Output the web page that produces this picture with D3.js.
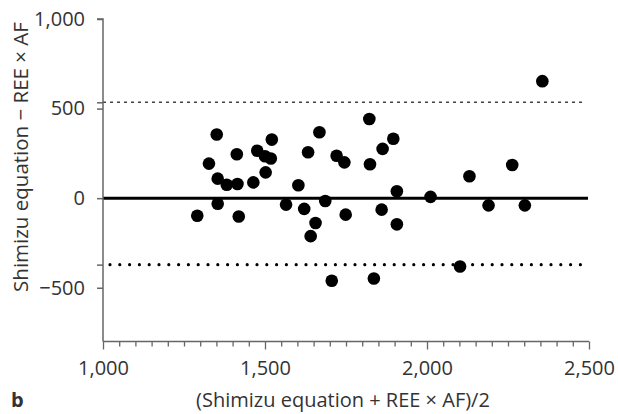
<!DOCTYPE html>
<html><head><meta charset="utf-8">
<script src="https://cdn.jsdelivr.net/npm/d3@7"></script>
<style>body{margin:0;background:#fff}svg{display:block}text{font-family:"Open Sans",sans-serif;fill:#333}</style>
</head><body><svg id="c" width="618" height="414"></svg>
<script>
const meanX = [1351,1327,1413,1354,1382,1415,1464,1476,1500,1518,1521,1502,1354,1291,1419,
  1633,1668,1603,1565,1621,1656,1641,1686,1721,1745,1749,1822,1863,1896,1824,1860,1907,1907,
  1706,1836,2356,2131,2263,2011,2190,2302,2102];
const diffY = [355,193,245,109,75,79,88,265,234,221,327,144,-31,-98,-102,
  256,368,72,-36,-60,-139,-212,-16,237,200,-92,442,275,332,189,-64,39,-146,
  -461,-448,653,122,185,7,-40,-40,-381];
const upperLoA = 535, lowerLoA = -371;
const xTicks = [1000,1500,2000,2500];
const yTicks = [1000,500,0,-500];

const svg = d3.select("#c");
const x = d3.scaleLinear().domain([1000,2500]).range([103,589]);
const y = d3.scaleLinear().domain([-800,1000]).range([341.5,19]);
const axisCol = "#666";
const fs = "20px";

// lines
svg.append("line").attr("x1",x(1000)).attr("x2",584).attr("y1",y(upperLoA)).attr("y2",y(upperLoA))
  .attr("stroke","#444").attr("stroke-width",1.4).attr("stroke-dasharray","3 4");
svg.append("line").attr("x1",x(1000)+7).attr("x2",581).attr("y1",y(lowerLoA)).attr("y2",y(lowerLoA))
  .attr("stroke","#000").attr("stroke-width",3.2).attr("stroke-linecap","round").attr("stroke-dasharray","0 9.8");
svg.append("line").attr("x1",x(1000)).attr("x2",588).attr("y1",y(0)).attr("y2",y(0))
  .attr("stroke","#000").attr("stroke-width",3);

// y axis
const ya = svg.append("g").attr("transform",`translate(${x(1000)},0)`)
  .call(d3.axisLeft(y).tickValues(yTicks).tickSize(6).tickPadding(12).tickFormat(d3.format(",")));
const yb = svg.append("g").attr("transform",`translate(${x(1000)},0)`)
  .call(d3.axisLeft(y).tickValues([upperLoA,lowerLoA]).tickSize(6).tickFormat(""));
[ya,yb].forEach(g=>{
  g.select(".domain").attr("d",`M-6,${y(1000)}H0V${y(-800)}`).attr("stroke",axisCol).attr("stroke-width",1.5);
  g.selectAll(".tick line").attr("stroke",axisCol).attr("stroke-width",1.5);
});
yb.select(".domain").remove();
ya.selectAll(".tick text").style("font-size",fs).style("fill","#333");

// x axis
const xa = svg.append("g").attr("transform",`translate(0,${y(-800)})`)
  .call(d3.axisBottom(x).tickValues(d3.range(1000,2501,50)).tickSize(5).tickFormat(""));
xa.select(".domain").attr("d",`M${x(1000)},0H${x(2500)}`).attr("stroke",axisCol).attr("stroke-width",1.5);
xa.selectAll(".tick line").attr("stroke",axisCol).attr("stroke-width",1.3)
  .attr("y2",d=>xTicks.includes(d)?8:5);
const xl = svg.append("g").attr("transform",`translate(0,${y(-800)})`)
  .call(d3.axisBottom(x).tickValues(xTicks).tickSize(0).tickPadding(19).tickFormat(d3.format(",")));
xl.select(".domain").remove();
xl.selectAll(".tick text").style("font-size",fs).style("fill","#333");

// points
svg.append("g").selectAll("circle").data(meanX).join("circle")
  .attr("cx",(d)=>x(d)).attr("cy",(d,i)=>y(diffY[i])).attr("r",6.3).attr("fill","#000");

// titles
svg.append("text").attr("x",343).attr("y",407).attr("text-anchor","middle")
  .style("font-size",fs).text("(Shimizu equation + REE × AF)/2");
svg.append("text").attr("transform","translate(28,157) rotate(-90)").attr("text-anchor","middle")
  .style("font-size","20.5px").text("Shimizu equation − REE × AF");
svg.append("text").attr("x",11).attr("y",407).style("font-size","20px").style("font-weight","bold").text("b");
</script></body></html>
